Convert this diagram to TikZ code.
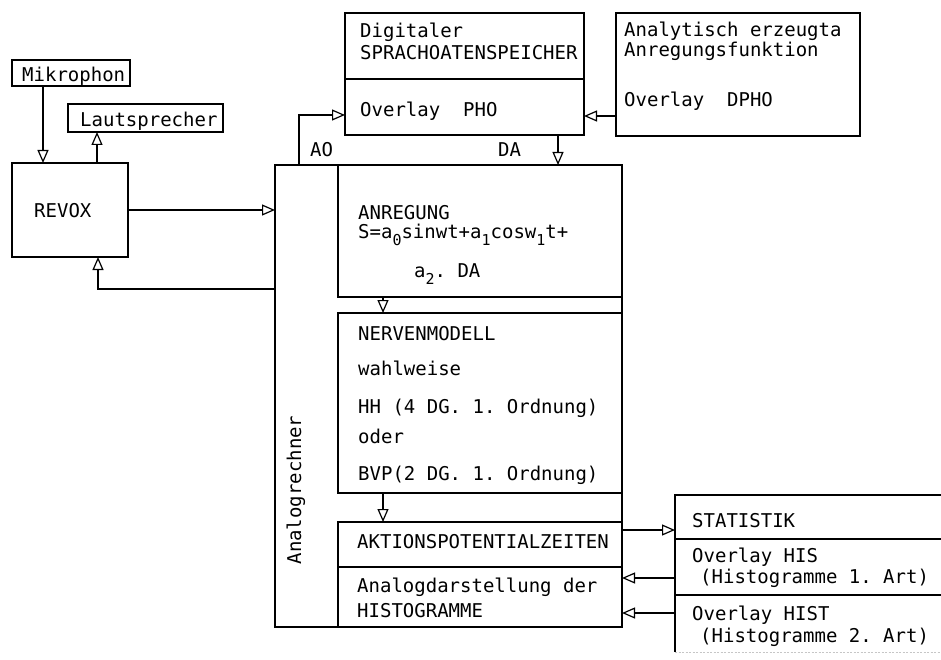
\documentclass[tikz,border=0pt]{standalone}
\usepackage{fontspec}
\setmonofont{DejaVu Sans Mono}
\usetikzlibrary{arrows.meta}
\newcommand{\lowsub}[1]{\raisebox{-0.4em}{\fontsize{15}{15}\selectfont #1}}
\begin{document}
\begin{tikzpicture}[x=1pt,y=-1pt,
  box/.style={draw, line width=1.2pt, rectangle, inner sep=0pt, outer sep=0pt, anchor=north west},
  lbl/.style={anchor=base west, inner sep=0pt, font=\ttfamily\fontsize{19}{21}\selectfont},
  arr/.style={line width=1.2pt, -{Triangle[open,length=13pt,width=11pt]}}]
\useasboundingbox[fill=white] (0,0) rectangle (941,660);
% boxes
\node[box, minimum width=118pt, minimum height=26pt] (mik) at (12,60) {};
\node[box, minimum width=155pt, minimum height=28pt] (laut) at (68,104) {};
\node[box, minimum width=116pt, minimum height=94pt] (revox) at (12,163) {};
\node[box, minimum width=239pt, minimum height=66pt] (dig1) at (345,13) {};
\node[box, minimum width=239pt, minimum height=56pt] (dig2) at (345,79) {};
\node[box, minimum width=244pt, minimum height=123pt] (ana) at (616,13) {};
\node[box, minimum width=347pt, minimum height=462pt] (big) at (275,165) {};
\node[box, minimum width=284pt, minimum height=132pt] (anr) at (338,165) {};
\node[box, minimum width=284pt, minimum height=180pt] (nerv) at (338,313) {};
\node[box, minimum width=284pt, minimum height=45pt] (akt) at (338,522) {};
\node[box, minimum width=284pt, minimum height=60pt] (hist) at (338,567) {};
\node[box, minimum width=290pt, minimum height=44pt] (stat1) at (675,495) {};
\node[box, minimum width=290pt, minimum height=56pt] (stat2) at (675,539) {};
\node[box, draw=none, minimum width=290pt, minimum height=57pt] (stat3) at (675,595) {};
\draw[line width=1.2pt] (stat3.north west) -- (stat3.south west);
\draw[line width=1pt, gray!45, dash pattern=on 2pt off 1.5pt] (stat3.south west) -- (stat3.south east);
% texts
\node[lbl] (tmik) at (22,82) {Mikrophon};
\node[lbl] (tlaut) at (80,127) {Lautsprecher};
\node[lbl] (trev) at (34,218) {REVOX};
\node[lbl] (tdig1) at (360,38) {Digitaler};
\node[lbl] (tdig2) at (360,60) {SPRACHOATENSPEICHER};
\node[lbl] (tdig3) at (360,117) {Overlay\ \ PHO};
\node[lbl] (tana1) at (624,37) {Analytisch erzeugta};
\node[lbl] (tana2) at (624,57) {Anregungsfunktion};
\node[lbl] (tana3) at (624,107) {Overlay\ \ DPHO};
\node[lbl] (tad) at (310,157) {AO};
\node[lbl] (tda) at (498,157) {DA};
\node[lbl] (tanr1) at (358,220) {ANREGUNG};
\node[lbl] (tanr2) at (358,238) {S=a\lowsub{0}sinwt+a\lowsub{1}cosw\lowsub{1}t+};
\node[lbl] (tanr3) at (414,277) {a\lowsub{2}. DA};
\node[lbl] (tn1) at (358,340) {NERVENMODELL};
\node[lbl] (tn2) at (358,375) {wahlweise};
\node[lbl] (tn3) at (358,413) {HH (4 DG. 1. Ordnung)};
\node[lbl] (tn4) at (358,443) {oder};
\node[lbl] (tn5) at (358,480) {BVP(2 DG. 1. Ordnung)};
\node[lbl] (takt) at (357,548) {AKTIONSPOTENTIALZEITEN};
\node[lbl] (th1) at (357,592) {Analogdarstellung der};
\node[lbl] (th2) at (357,617) {HISTOGRAMME};
\node[lbl] (ts1) at (692,527) {STATISTIK};
\node[lbl] (ts2) at (692,562) {Overlay HIS};
\node[lbl] (ts3) at (700,583) {(Histogramme 1. Art)};
\node[lbl] (ts4) at (692,620) {Overlay HIST};
\node[lbl] (ts5) at (700,642) {(Histogramme 2. Art)};
\node[lbl, anchor=center, rotate=90] (tanalog) at (296,490) {Analogrechner};
% connectors
\draw[arr] ([xshift=31pt]mik.south west) -- ([xshift=31pt]revox.north west);
\draw[arr] ([xshift=85pt]revox.north west) -- ([xshift=29pt]laut.south west);
\draw[arr] (revox.east) -- (revox.east -| big.west);
\draw[arr] ([yshift=-124pt]big.north west) -| ([xshift=86pt]revox.south west);
\draw[arr] ([xshift=24pt]big.north west) |- ([yshift=-36pt]dig2.north west);
\draw[arr] ([xshift=213pt]dig2.south west) -- ([xshift=213pt]dig2.south west |- big.north);
\draw[arr] ([yshift=-103pt]ana.north west) -- ([yshift=-103pt]ana.north west -| dig2.east);
\draw[arr] ([xshift=45pt]anr.south west) -- ([xshift=45pt]nerv.north west);
\draw[arr] ([xshift=45pt]nerv.south west) -- ([xshift=45pt]akt.north west);
\draw[arr] ([yshift=-8pt]akt.north east) -- ([yshift=-8pt]akt.north east -| stat1.west);
\draw[arr] ([yshift=-39pt]stat2.north west) -- ([yshift=-39pt]stat2.north west -| hist.east);
\draw[arr] ([yshift=-18pt]stat3.north west) -- ([yshift=-18pt]stat3.north west -| hist.east);
\end{tikzpicture}
\end{document}
